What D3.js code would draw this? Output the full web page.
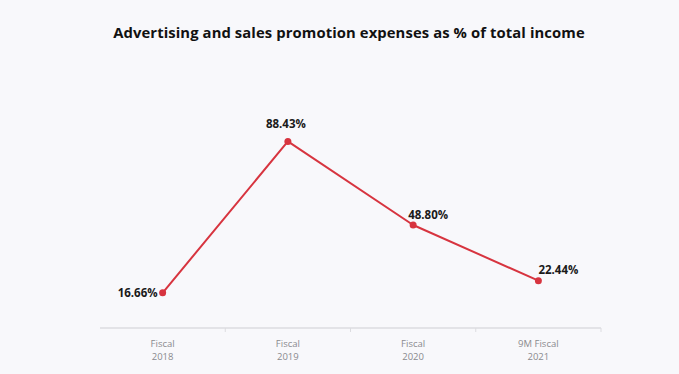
<!DOCTYPE html>
<html>
<head>
<meta charset="utf-8">
<script src="https://cdn.jsdelivr.net/npm/d3@7"></script>
<style>
  html, body { margin: 0; padding: 0; background: #f8f8fb; }
  svg { display: block; }
</style>
</head>
<body>
<svg id="chart"></svg>
<script>
// Data
const categories = ["Fiscal 2018", "Fiscal 2019", "Fiscal 2020", "9M Fiscal 2021"];
const categoryLines = [["Fiscal", "2018"], ["Fiscal", "2019"], ["Fiscal", "2020"], ["9M Fiscal", "2021"]];
const values = [16.66, 88.43, 48.80, 22.44];
const valueLabels = ["16.66%", "88.43%", "48.80%", "22.44%"];
const title = "Advertising and sales promotion expenses as % of total income";

const width = 679;
const height = 374;
const margin = { top: 117, right: 78, bottom: 46, left: 100 };
const red = "#d7343f";

const svg = d3.select("#chart")
    .attr("width", width)
    .attr("height", height);

svg.append("rect")
    .attr("width", width)
    .attr("height", height)
    .attr("fill", "#f8f8fb");

// title
svg.append("text")
    .attr("x", 349)
    .attr("y", 38)
    .attr("text-anchor", "middle")
    .style("font-family", "'Open Sans', sans-serif")
    .style("font-weight", 700)
    .style("font-size", "14.8px")
    .style("letter-spacing", "0.1px")
    .attr("fill", "#111")
    .text(title);

const x = d3.scaleBand()
    .domain(categories)
    .range([margin.left, width - margin.right]);

const y = d3.scaleLinear()
    .domain([0, 100])
    .range([height - margin.bottom, margin.top]);

// x axis: baseline with ticks between bands
const axis = svg.append("g")
    .attr("transform", `translate(0,${y(0)})`);

axis.append("line")
    .attr("x1", x.range()[0])
    .attr("x2", x.range()[1])
    .attr("stroke", "#dcdce0")
    .attr("stroke-width", 1.5);

axis.selectAll(".tick")
    .data(categories.slice(1).concat([null]))
    .join("line")
    .attr("class", "tick")
    .attr("x1", d => d ? x(d) : x.range()[1])
    .attr("x2", d => d ? x(d) : x.range()[1])
    .attr("y1", 0)
    .attr("y2", 4)
    .attr("stroke", "#dcdce0");

axis.selectAll(".cat")
    .data(categories)
    .join("text")
    .attr("class", "cat")
    .attr("x", d => x(d) + x.bandwidth() / 2)
    .attr("text-anchor", "middle")
    .style("font-family", "'Open Sans', sans-serif")
    .style("font-size", "9.5px")
    .attr("fill", "#8a8a8e")
    .selectAll("tspan")
    .data((d, i) => categoryLines[i])
    .join("tspan")
    .attr("x", function () { return this.parentNode.getAttribute("x"); })
    .attr("y", (d, j) => 19 + j * 12.5)
    .text(d => d);

// line
const line = d3.line()
    .x((d, i) => x(categories[i]) + x.bandwidth() / 2)
    .y(d => y(d));

svg.append("path")
    .datum(values)
    .attr("fill", "none")
    .attr("stroke", red)
    .attr("stroke-width", 2)
    .attr("stroke-linejoin", "round")
    .attr("d", line);

svg.selectAll(".dot")
    .data(values)
    .join("circle")
    .attr("class", "dot")
    .attr("cx", (d, i) => x(categories[i]) + x.bandwidth() / 2)
    .attr("cy", d => y(d))
    .attr("r", 3.5)
    .attr("fill", red);

// value labels: first to the left, second above, others above-right
const labelPos = [
    { dx: -5, dy: 4, anchor: "end" },
    { dx: -2, dy: -13, anchor: "middle" },
    { dx: -5, dy: -6, anchor: "start" },
    { dx: 0, dy: -7, anchor: "start" }
];

svg.selectAll(".val")
    .data(values)
    .join("text")
    .attr("class", "val")
    .attr("x", (d, i) => x(categories[i]) + x.bandwidth() / 2 + labelPos[i].dx)
    .attr("y", (d, i) => y(d) + labelPos[i].dy)
    .attr("text-anchor", (d, i) => labelPos[i].anchor)
    .style("font-family", "'Open Sans', sans-serif")
    .style("font-weight", 700)
    .style("font-size", "11.5px")
    .attr("fill", "#1a1a1a")
    .text((d, i) => valueLabels[i]);
</script>
</body>
</html>
